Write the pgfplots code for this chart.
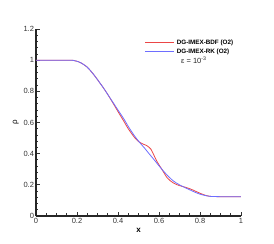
\documentclass[border=0pt]{standalone}
\usepackage{pgfplots}
\pgfplotsset{compat=1.18}
\usepackage{fontspec}
\setmainfont{Liberation Sans}
\definecolor{cred}{RGB}{235,70,70}
\definecolor{cblue}{RGB}{110,110,255}
\begin{document}
\begin{tikzpicture}
\useasboundingbox (-36pt,-28pt) rectangle (238pt,216pt);
\begin{axis}[
  scale only axis, width=205pt, height=187pt,
  at={(0,0)}, anchor=origin,
  xmin=0, xmax=1, ymin=0, ymax=1.2,
  axis x line*=bottom, axis y line*=left,
  axis line style={line width=1.2pt, black!85, -},
  xtick={0,0.2,...,1}, ytick={0,0.2,...,1.2},
  minor x tick num=3, minor y tick num=4,
  tick align=inside,
  major tick length=4pt, minor tick length=2.5pt,
  tick style={line width=0.8pt, black!80},
  /pgf/number format/assume math mode=true,
  ticklabel style={font=\fontsize{7.5}{8}\selectfont, text=black!80},
  xticklabel style={yshift=1.5pt},
  yticklabel style={xshift=1.5pt},
  xlabel={\textbf{x}}, xlabel style={font=\fontsize{8}{9}\selectfont, yshift=2pt},
  ylabel={ρ}, ylabel style={font=\fontsize{8}{9}\selectfont, yshift=-2pt},
  legend style={draw=none, fill=none, at={(0.53,0.955)}, anchor=north west,
    font=\fontsize{6.3}{7}\selectfont\bfseries, row sep=-1pt, inner sep=0pt},
  legend cell align=left,
]
\addlegendimage{legend image code/.code={\draw[cred, line width=1pt] (0pt,0pt) -- (29pt,0pt);}}
\addlegendentry{DG-IMEX-BDF (O2)}
\addlegendimage{legend image code/.code={\draw[cblue, line width=1pt] (0pt,0pt) -- (29pt,0pt);}}
\addlegendentry{DG-IMEX-RK (O2)}
\addplot[cred, line width=0.8pt, smooth, tension=0.5, forget plot] coordinates {
(0,1.0) (0.15,1.0) (0.18,0.999) (0.2,0.993) (0.22,0.982) (0.25,0.955) (0.28,0.91)
(0.3,0.875) (0.33,0.82) (0.35,0.78) (0.38,0.715) (0.4,0.67) (0.43,0.605)
(0.45,0.56) (0.48,0.505) (0.5,0.478) (0.52,0.463) (0.54,0.452) (0.56,0.43)
(0.57,0.405) (0.59,0.35) (0.614,0.30) (0.64,0.245) (0.67,0.212) (0.7,0.195)
(0.73,0.184) (0.75,0.175) (0.77,0.164) (0.8,0.146) (0.83,0.131) (0.85,0.126)
(0.9,0.124) (1.0,0.123)
};
\addplot[cblue, line width=0.8pt, smooth, tension=0.5, forget plot] coordinates {
(0,1.0) (0.15,1.0) (0.18,0.999) (0.2,0.993) (0.22,0.982) (0.25,0.955) (0.28,0.91)
(0.3,0.875) (0.33,0.82) (0.35,0.78) (0.38,0.72) (0.4,0.68) (0.43,0.62)
(0.45,0.575) (0.48,0.515) (0.508,0.468) (0.53,0.435) (0.549,0.404) (0.58,0.355)
(0.6,0.322) (0.614,0.30) (0.64,0.262) (0.67,0.225) (0.7,0.2) (0.73,0.18)
(0.75,0.168) (0.78,0.15) (0.8,0.14) (0.83,0.13) (0.85,0.126) (0.9,0.124) (1.0,0.123)
};
\node[font=\fontsize{7.5}{8}\selectfont, text=black!85] at (axis cs:0.77,1.0) {ε = 10\textsuperscript{-3}};
\end{axis}
\end{tikzpicture}
\end{document}
